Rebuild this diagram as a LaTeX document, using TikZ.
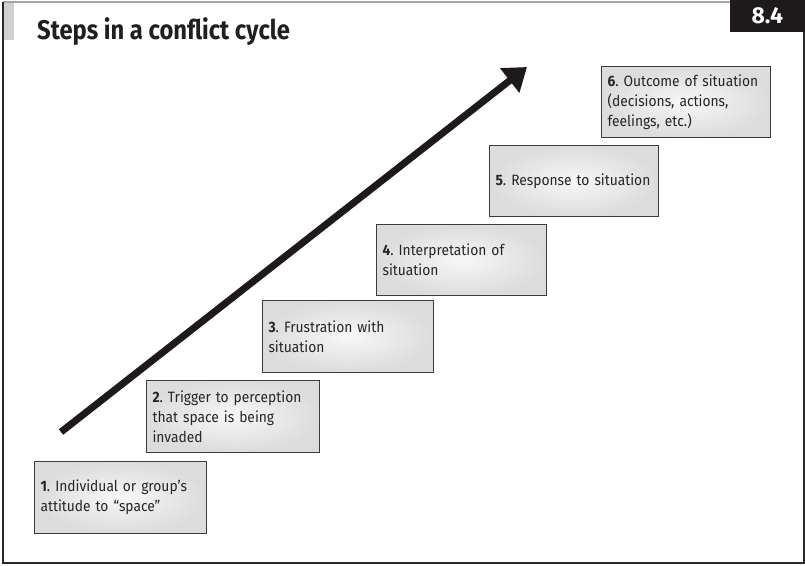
\documentclass[tikz,border=0pt]{standalone}
\usepackage{fontspec}
\setmainfont{Fira Sans}
\newfontfamily\titlefont[FakeStretch=0.88]{Fira Sans Bold}
\newfontfamily\bodyfont[FakeStretch=0.92]{Fira Sans}
\usetikzlibrary{arrows.meta}
\definecolor{boxedge}{RGB}{60,60,60}
\definecolor{boxout}{RGB}{220,220,220}
\definecolor{boxin}{RGB}{247,247,247}
\definecolor{barcol}{RGB}{208,208,208}
\definecolor{framecol}{RGB}{40,40,40}
\definecolor{badgecol}{RGB}{30,26,27}
\hyphenpenalty=10000
\exhyphenpenalty=10000
\tikzset{
  stepbox/.style={draw=boxedge, line width=1.1pt, inner color=boxin, outer color=boxout,
    anchor=north west, minimum height=72pt, inner xsep=6pt, align=left,
    font=\fontsize{15}{20}\selectfont\bodyfont, text=black!85},
}
\newcommand{\stepnum}[1]{\textbf{#1}}
\frenchspacing
\begin{document}
\begin{tikzpicture}[x=1pt,y=-1pt]
\useasboundingbox (0,0) rectangle (805,565);
% frame
\fill[barcol] (3,3) rectangle (14,40);
\draw[gray!70, line width=1.2pt] (3,2) -- (730,2);
\draw[framecol, line width=1.5pt] (3,2) -- (3,563) -- (804,563) -- (804,32);
% badge
\node[fill=badgecol, text=white, anchor=north east, minimum width=75pt, minimum height=32pt,
  inner sep=0pt, font=\fontsize{23}{26}\selectfont\bfseries] (badge) at (805,0) {8.4};
% title
\node[anchor=base west, inner sep=0pt, font=\fontsize{27}{30}\selectfont\titlefont, text=black!88] (title) at (37,39) {Steps in a conflict cycle};
% boxes
\node[stepbox, text width=160pt] (b1) at (34,461) {\stepnum{1}. Individual or group’s\\attitude to “space”};
\node[stepbox, text width=161pt] (b2) at (146,380) {\stepnum{2}. Trigger to perception\\that space is being\\invaded};
\node[stepbox, text width=159pt] (b3) at (262,300) {\stepnum{3}. Frustration with\\situation};
\node[stepbox, text width=158pt, minimum height=71pt] (b4) at (376,224) {\stepnum{4}. Interpretation of\\situation};
\node[stepbox, text width=157pt, minimum height=71pt] (b5) at (489,145) {\stepnum{5}. Response to situation};
\node[stepbox, text width=157pt, minimum height=71pt] (b6) at (601,66) {\stepnum{6}. Outcome of situation\\(decisions, actions,\\feelings, etc.)};
% arrow
\coordinate (tail) at (61,432);
\coordinate (tip) at (527,67);
\draw[badgecol, line width=7pt, -{Triangle[length=22pt,width=30pt]}] (tail) -- (tip);
\end{tikzpicture}
\end{document}
